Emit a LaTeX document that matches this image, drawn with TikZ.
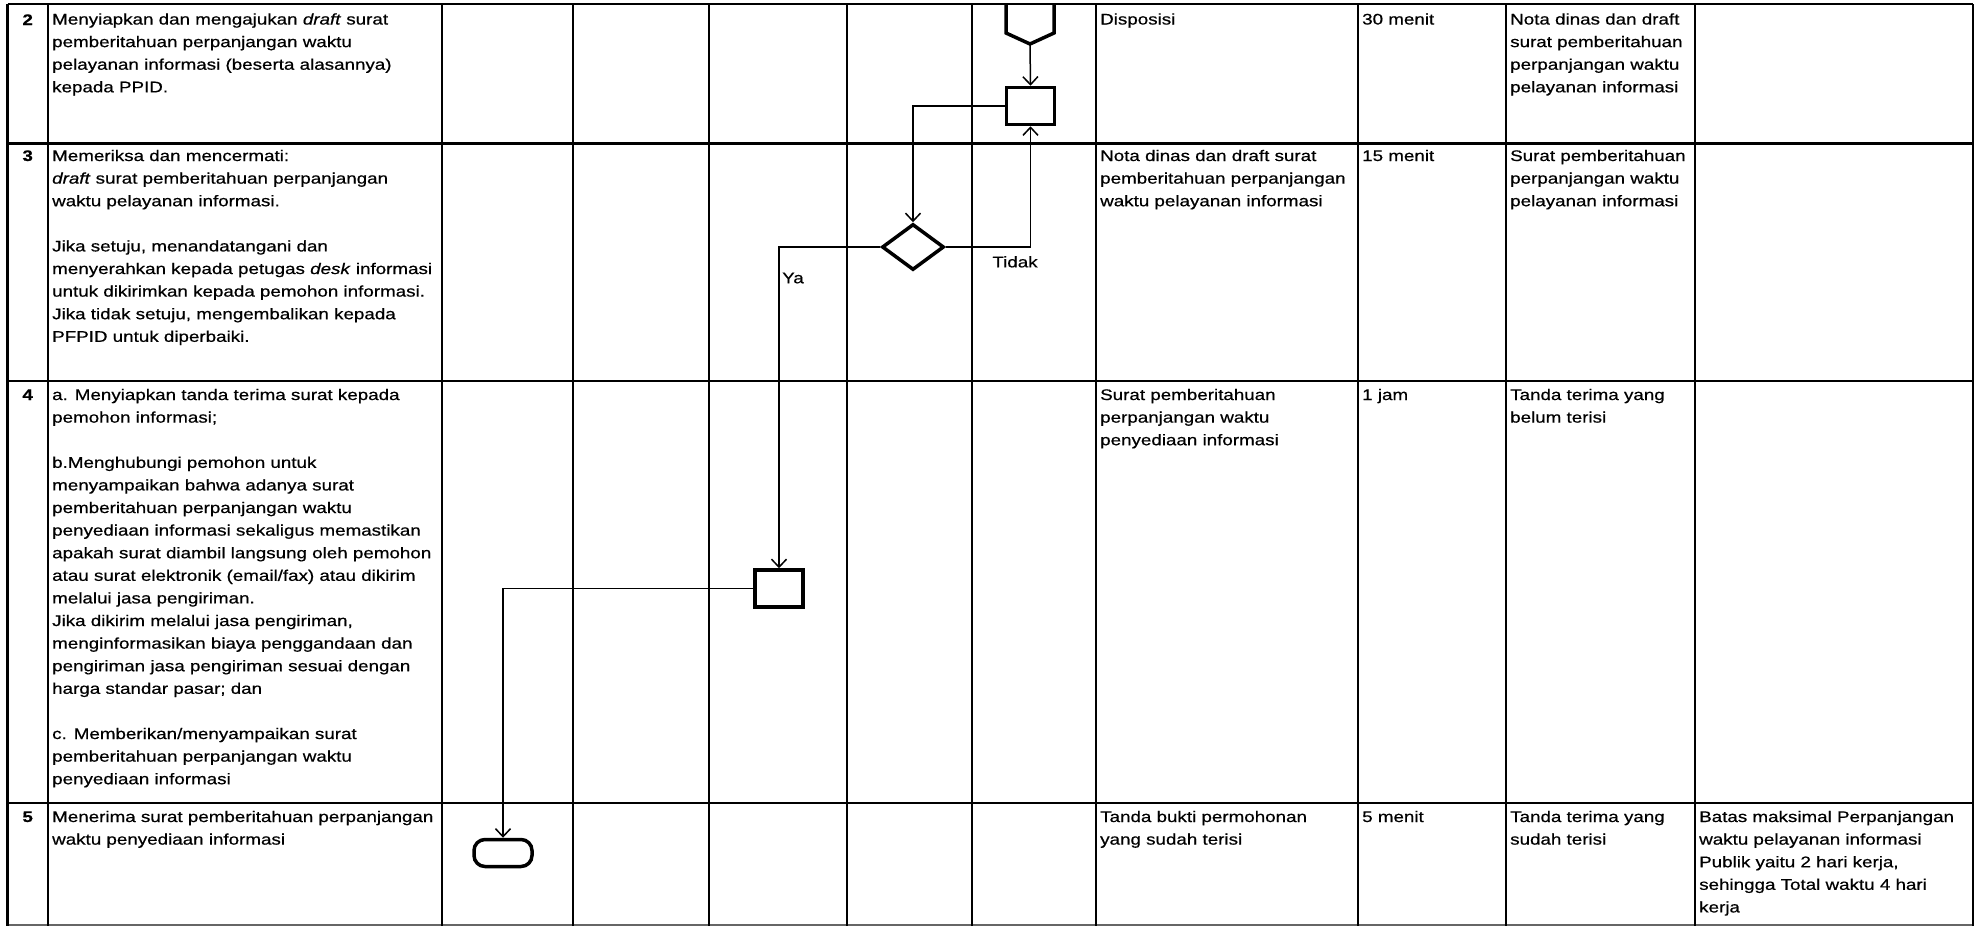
\documentclass[tikz,border=0pt]{standalone}
\usepackage{fontspec}
\setmainfont[FakeStretch=1.22,FakeBold=0.6]{Liberation Sans}
\usetikzlibrary{arrows.meta,shapes.geometric}
\begin{document}
\begin{tikzpicture}[x=1pt,y=-1pt,
  grid/.style={line width=2.2pt,black},
  cell/.style={anchor=north west,inner sep=0pt,align=left,font=\fontsize{15.4}{22.6}\selectfont},
  num/.style={anchor=north,inner sep=0pt,font=\fontsize{15.4}{22.6}\selectfont\bfseries},
  lbl/.style={inner sep=0pt,font=\fontsize{15.4}{22.6}\selectfont},
  procbox/.style={draw,line width=3.5pt,minimum width=48pt,minimum height=37pt,inner sep=0pt},
  decision/.style={draw,diamond,line width=3.5pt,minimum width=62pt,minimum height=46pt,inner sep=0pt},
  terminal/.style={draw,line width=3.5pt,rounded corners=11pt,minimum width=58pt,minimum height=27pt,inner sep=0pt},
  conn/.style={line width=1.5pt,-{Straight Barb[length=8pt,width=15pt,line width=1.5pt]}}
]
\useasboundingbox (0,0) rectangle (1981,926);
% table
\foreach \yy in {4,143.5,381,803} \draw[grid] (7.5,\yy) -- (1973,\yy);
\draw[line width=1.5pt,black!60] (7.5,925) -- (1973,925);
\foreach \xx in {7.5,48,442,573,709,847,972,1096,1358,1506,1695,1973} \draw[grid] (\xx,4) -- (\xx,926);

% row 2
\node[num] (n2) at (27.7,9) {\strut 2};
\node[cell] (d2) at (52,8.5) {\strut Menyiapkan dan mengajukan \textit{draft} surat\\
pemberitahuan perpanjangan waktu\\
pelayanan informasi (beserta alasannya)\\
kepada PPID.};
\node[cell] (i2) at (1100,8.5) {\strut Disposisi};
\node[cell] (t2) at (1362,8.5) {\strut 30 menit};
\node[cell] (o2) at (1510,8.5) {\strut Nota dinas dan draft\\
surat pemberitahuan\\
perpanjangan waktu\\
pelayanan informasi};

% row 3
\node[num] (n3) at (27.7,145) {\strut 3};
\node[cell] (d3) at (52,145) {\strut Memeriksa dan mencermati:\\
\textit{draft} surat pemberitahuan perpanjangan\\
waktu pelayanan informasi.\\
~\\
Jika setuju, menandatangani dan\\
menyerahkan kepada petugas \textit{desk} informasi\\
untuk dikirimkan kepada pemohon informasi.\\
Jika tidak setuju, mengembalikan kepada\\
PFPID untuk diperbaiki.};
\node[cell] (i3) at (1100,145) {\strut Nota dinas dan draft surat\\
pemberitahuan perpanjangan\\
waktu pelayanan informasi};
\node[cell] (t3) at (1362,145) {\strut 15 menit};
\node[cell] (o3) at (1510,145) {\strut Surat pemberitahuan\\
perpanjangan waktu\\
pelayanan informasi};

% row 4
\node[num] (n4) at (27.7,384) {\strut 4};
\node[cell] (d4) at (52,384) {\strut a. Menyiapkan tanda terima surat kepada\\
pemohon informasi;\\
~\\
b.Menghubungi pemohon untuk\\
menyampaikan bahwa adanya surat\\
pemberitahuan perpanjangan waktu\\
penyediaan informasi sekaligus memastikan\\
apakah surat diambil langsung oleh pemohon\\
atau surat elektronik (email/fax) atau dikirim\\
melalui jasa pengiriman.\\
Jika dikirim melalui jasa pengiriman,\\
menginformasikan biaya penggandaan dan\\
pengiriman jasa pengiriman sesuai dengan\\
harga standar pasar; dan\\
~\\
c. Memberikan/menyampaikan surat\\
pemberitahuan perpanjangan waktu\\
penyediaan informasi};
\node[cell] (i4) at (1100,384) {\strut Surat pemberitahuan\\
perpanjangan waktu\\
penyediaan informasi};
\node[cell] (t4) at (1362,384) {\strut 1 jam};
\node[cell] (o4) at (1510,384) {\strut Tanda terima yang\\
belum terisi};

% row 5
\node[num] (n5) at (27.7,806) {\strut 5};
\node[cell] (d5) at (52,806) {\strut Menerima surat pemberitahuan perpanjangan\\
waktu penyediaan informasi};
\node[cell] (i5) at (1100,806) {\strut Tanda bukti permohonan\\
yang sudah terisi};
\node[cell] (t5) at (1362,806) {\strut 5 menit};
\node[cell] (o5) at (1510,806) {\strut Tanda terima yang\\
sudah terisi};
\node[cell] (k5) at (1699,806) {\strut Batas maksimal Perpanjangan\\
waktu pelayanan informasi\\
Publik yaitu 2 hari kerja,\\
sehingga Total waktu 4 hari\\
kerja};

% flowchart shapes
\draw[line width=3.5pt,line join=miter] (1006,4) -- (1006,33) -- (1030,44) -- (1054,33) -- (1054,4);
\coordinate (optip) at (1030,44);
\node[procbox] (b1) at (1030.5,106) {};
\node[decision] (dia) at (913,247) {};
\node[procbox] (b2) at (779,588.5) {};
\node[terminal] (term) at (503,853) {};

% connectors
\draw[conn] (optip) -- (b1.north);
\draw[conn] (b1.west) -| (dia.north);
\draw[conn] (dia.east) -| (b1.south);
\draw[conn] (dia.west) -| (b2.north);
\draw[conn] (b2.west) -| (term.north);

% labels
\node[lbl,anchor=north] (tidak) at (1015,256) {Tidak};
\node[lbl,anchor=west] (ya) at (782,278) {Ya};
\end{tikzpicture}
\end{document}
